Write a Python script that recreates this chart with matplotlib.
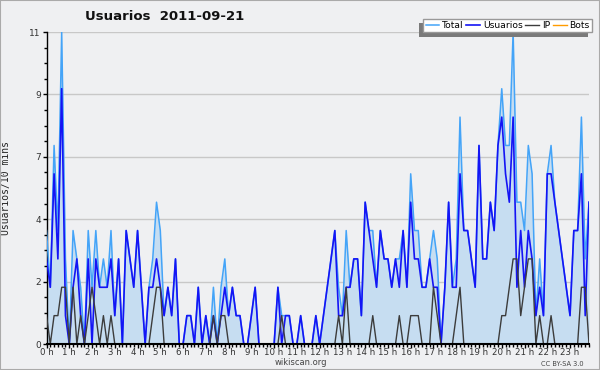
import matplotlib
matplotlib.use("Agg")
import matplotlib.pyplot as plt
from matplotlib.ticker import FixedLocator, MultipleLocator
import numpy as np

total = [4, 2, 7, 4, 11, 3, 0, 4, 3, 2, 0, 4, 2, 4, 2, 3, 2, 4, 1, 3,
         0, 4, 3, 2, 4, 2, 0, 2, 3, 5, 4, 1, 2, 1, 3, 0, 0, 1, 1, 0,
         2, 0, 1, 0, 2, 0, 2, 3, 1, 2, 1, 1, 0, 0, 1, 2, 0, 0, 0, 0,
         0, 2, 1, 1, 1, 0, 0, 1, 0, 0, 0, 1, 0, 1, 2, 3, 4, 2, 1, 4,
         2, 3, 3, 1, 5, 4, 4, 2, 4, 3, 3, 2, 3, 3, 4, 2, 6, 4, 4, 2,
         2, 3, 4, 3, 0, 2, 5, 2, 3, 8, 4, 4, 3, 2, 7, 3, 3, 5, 4, 7,
         9, 7, 7, 11, 5, 5, 4, 7, 6, 1, 3, 1, 6, 7, 5, 4, 3, 2, 1, 4,
         4, 8, 3, 5]
usuarios = [3, 2, 6, 3, 9, 1, 0, 2, 3, 1, 0, 3, 0, 3, 2, 2, 2, 3, 1, 3,
            0, 4, 3, 2, 4, 2, 0, 2, 2, 3, 2, 1, 2, 1, 3, 0, 0, 1, 1, 0,
            2, 0, 1, 0, 1, 0, 1, 2, 1, 2, 1, 1, 0, 0, 1, 2, 0, 0, 0, 0,
            0, 2, 0, 1, 1, 0, 0, 1, 0, 0, 0, 1, 0, 1, 2, 3, 4, 1, 1, 2,
            2, 3, 3, 1, 5, 4, 3, 2, 4, 3, 3, 2, 3, 2, 4, 2, 5, 3, 3, 2,
            2, 3, 2, 2, 0, 2, 5, 2, 2, 6, 4, 4, 3, 2, 7, 3, 3, 5, 4, 7,
            8, 6, 5, 8, 2, 4, 2, 4, 3, 1, 2, 1, 6, 6, 5, 4, 3, 2, 1, 4,
            4, 6, 1, 5]
ip = [1, 0, 1, 1, 2, 2, 0, 2, 0, 1, 0, 1, 2, 1, 0, 1, 0, 1, 0, 0,
      0, 0, 0, 0, 0, 0, 0, 0, 1, 2, 2, 0, 0, 0, 0, 0, 0, 0, 0, 0,
      0, 0, 0, 0, 1, 0, 1, 1, 0, 0, 0, 0, 0, 0, 0, 0, 0, 0, 0, 0,
      0, 0, 1, 0, 0, 0, 0, 0, 0, 0, 0, 0, 0, 0, 0, 0, 0, 1, 0, 2,
      0, 0, 0, 0, 0, 0, 1, 0, 0, 0, 0, 0, 0, 1, 0, 0, 1, 1, 1, 0,
      0, 0, 2, 1, 0, 0, 0, 0, 1, 2, 0, 0, 0, 0, 0, 0, 0, 0, 0, 0,
      1, 1, 2, 3, 3, 1, 2, 3, 3, 0, 1, 0, 0, 1, 0, 0, 0, 0, 0, 0,
      0, 2, 2, 0]
bots = [0] * 144

hour_labels = [f"{h} h" for h in range(24)]
ytick_labels = ["0", "2", "4", "7", "9", "11"]
ymax = 11

bg = "#eff0f2"
fig = plt.figure(figsize=(6, 3.7), dpi=100, facecolor=bg)
ax = fig.add_axes([46.5 / 600, 26 / 370, 542.5 / 600, 312 / 370])
ax.set_facecolor(bg)

x = np.arange(len(total))
ax.fill_between(x, 0, total, color="#c6ddf1", linewidth=0, zorder=1)
ax.plot(x, total, color="#44a4f8", lw=1.1, zorder=3, label="Total")
ax.plot(x, usuarios, color="#1414f5", lw=1.2, zorder=4, label="Usuarios")
ax.plot(x, ip, color="#3c3c3c", lw=1.0, zorder=5, label="IP")
ax.plot(x, bots, color="#ff9c00", lw=1.0, zorder=2, label="Bots")

ax.set_xlim(0, len(total) - 1)
ax.set_ylim(0, ymax)

yt = [ymax * i / 5 for i in range(6)]
ax.yaxis.set_major_locator(FixedLocator(yt))
ax.set_yticklabels(ytick_labels)
ax.yaxis.set_minor_locator(MultipleLocator(ymax / 20))
ax.xaxis.set_major_locator(FixedLocator([h * 6 for h in range(24)]))
ax.set_xticklabels(hour_labels)
ax.xaxis.set_minor_locator(MultipleLocator(1))

ax.grid(axis="y", color="#c8c8c8", lw=1.0, zorder=0)
ax.set_axisbelow(True)
for s in ["top", "right"]:
    ax.spines[s].set_visible(False)
ax.spines["left"].set_color("black")
ax.spines["bottom"].set_color("black")
ax.spines["bottom"].set_linewidth(1.5)
ax.spines["left"].set_linewidth(1.0)
ax.spines["bottom"].set_zorder(6)

ax.tick_params(axis="x", which="major", length=2.8, width=1, pad=0.3,
               labelsize=6.2, colors="black", labelcolor="#333333")
ax.tick_params(axis="x", which="minor", length=2.2, width=1)
ax.tick_params(axis="y", which="major", length=3, width=1, pad=1,
               labelsize=6.5, labelcolor="#333333")
ax.tick_params(axis="y", which="minor", length=2.2, width=1)

ax.set_ylabel("Usuarios/10 mins", family="DejaVu Sans Mono", fontsize=7,
              color="#222222", labelpad=13)

fig.text(85 / 600, 1 - 17 / 370, "Usuarios  2011-09-21", fontsize=9.5,
         fontweight="bold", va="center", ha="left", color="#111111")

leg = ax.legend(loc="upper right", bbox_to_anchor=(1.007, 1.045), ncol=4,
                fontsize=6.6, frameon=True, fancybox=False,
                shadow={"ox": -3, "oy": -3, "facecolor": "#7a7a7a",
                        "edgecolor": "none", "alpha": 1},
                handlelength=1.5, handletextpad=0.3, columnspacing=0.3,
                borderpad=0.25, borderaxespad=0.1)
leg.get_frame().set_edgecolor("#999999")
leg.get_frame().set_facecolor("white")
leg.get_frame().set_linewidth(1.0)
leg.set_zorder(10)

fig.text(301 / 600, 1 - 362.5 / 370, "wikiscan.org", fontsize=6,
         color="#444444", ha="center", va="center")
fig.text(562 / 600, 1 - 364 / 370, "CC BY-SA 3.0", fontsize=4.8,
         color="#444444", ha="center", va="center")

border = plt.Rectangle((0, 0), 1, 1, transform=fig.transFigure, fill=False,
                       edgecolor="#aaaaaa", lw=1.5)
fig.patches.append(border)

fig.savefig("out.png", dpi=100, facecolor=bg)
